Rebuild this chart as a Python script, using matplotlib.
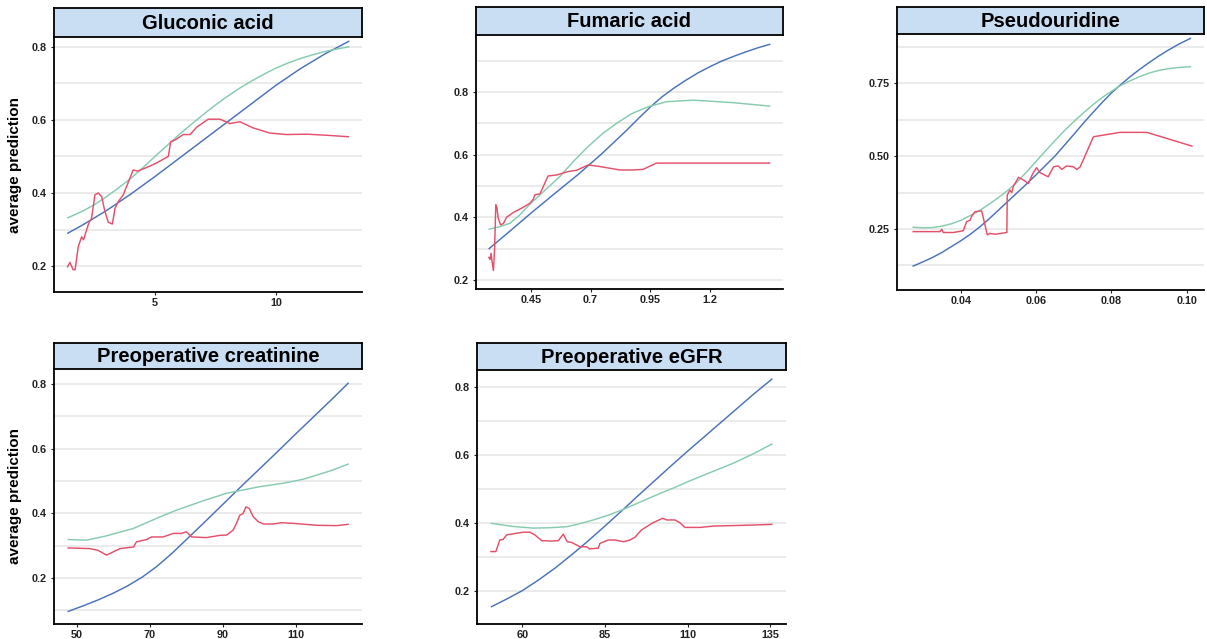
import numpy as np
import matplotlib
matplotlib.use("Agg")
import matplotlib.pyplot as plt

plt.rcParams['font.family'] = ['Liberation Sans', 'DejaVu Sans']

W, H = 1207, 639

BLUE = '#4A72B8'
GREEN = '#86CBAE'
RED = '#E4506A'
STRIP = '#C9DEF2'
GRID = '#E6E6E6'

# ---- Gluconic acid ----
glu_blue_x = [1.4, 2, 3, 4, 5, 6, 7, 8, 9, 10, 11, 12, 13]
glu_blue_y = [0.29, 0.312, 0.352, 0.397, 0.445, 0.495, 0.545, 0.595, 0.645, 0.695, 0.74, 0.78, 0.815]
glu_green_x = [1.4, 2, 2.5, 3, 3.5, 4, 4.5, 5, 5.5, 6, 6.5, 7, 7.5, 8, 8.5, 9, 9.5, 10,
               10.5, 11, 11.5, 12, 12.5, 13]
glu_green_y = [0.332, 0.35, 0.368, 0.39, 0.414, 0.44, 0.469, 0.5, 0.53, 0.56, 0.588, 0.615,
               0.641, 0.665, 0.687, 0.707, 0.725, 0.742, 0.756, 0.768, 0.778, 0.787, 0.794, 0.80]
glu_red_x = [1.39, 1.49, 1.62, 1.7, 1.83, 1.97, 2.05, 2.18, 2.28, 2.38, 2.52, 2.66, 2.8,
             2.93, 3.07, 3.24, 3.35, 3.48, 3.69, 3.9, 4.1, 4.3, 4.59, 5.0, 5.55, 5.65,
             5.83, 6.17, 6.45, 6.72, 7.2, 7.69, 8.1, 8.51, 9.06, 9.75, 10.44, 11.27, 12.1, 12.99]
glu_red_y = [0.198, 0.21, 0.19, 0.19, 0.253, 0.28, 0.272, 0.30, 0.32, 0.33, 0.395, 0.40, 0.39,
             0.35, 0.32, 0.315, 0.358, 0.376, 0.395, 0.43, 0.463, 0.46, 0.468, 0.48, 0.50, 0.54,
             0.545, 0.56, 0.56, 0.58, 0.602, 0.602, 0.59, 0.595, 0.578, 0.564, 0.56, 0.561, 0.558, 0.554]

# ---- Fumaric acid ----
fum_blue_x = [0.275, 0.35, 0.45, 0.55, 0.65, 0.75, 0.85, 0.9, 0.95, 1.0, 1.05, 1.1, 1.15,
              1.2, 1.25, 1.3, 1.35, 1.4, 1.45]
fum_blue_y = [0.300, 0.348, 0.413, 0.476, 0.538, 0.605, 0.677, 0.715, 0.752, 0.785, 0.813,
              0.838, 0.861, 0.881, 0.899, 0.914, 0.928, 0.941, 0.952]
fum_green_x = [0.275, 0.32, 0.362, 0.4, 0.45, 0.5, 0.571, 0.63, 0.69, 0.75, 0.809, 0.87,
               0.941, 1.018, 1.13, 1.297, 1.45]
fum_green_y = [0.362, 0.37, 0.381, 0.405, 0.445, 0.48, 0.53, 0.58, 0.626, 0.667, 0.70, 0.73,
               0.753, 0.769, 0.774, 0.766, 0.755]
fum_red_x = [0.274, 0.279, 0.283, 0.287, 0.293, 0.298, 0.303, 0.308, 0.313, 0.323, 0.335,
             0.348, 0.376, 0.418, 0.446, 0.46, 0.467, 0.488, 0.522, 0.558, 0.606, 0.641,
             0.69, 0.739, 0.823, 0.878, 0.92, 0.976, 1.087, 1.45]
fum_red_y = [0.272, 0.265, 0.285, 0.26, 0.23, 0.30, 0.44, 0.43, 0.397, 0.376, 0.38,
             0.40, 0.415, 0.432, 0.445, 0.458, 0.472, 0.475, 0.532, 0.535, 0.546, 0.55,
             0.567, 0.562, 0.551, 0.551, 0.553, 0.573, 0.573, 0.573]

# ---- Pseudouridine ----
psu_blue_x = [0.0273, 0.030, 0.0325, 0.035, 0.0375, 0.040, 0.0425, 0.045, 0.0475, 0.050,
              0.0525, 0.055, 0.0575, 0.060, 0.0625, 0.065, 0.0675, 0.070, 0.0725, 0.075,
              0.0775, 0.080, 0.0825, 0.085, 0.0875, 0.090, 0.0925, 0.095, 0.098, 0.101]
psu_blue_y = [0.123, 0.138, 0.153, 0.17, 0.19, 0.21, 0.232, 0.257, 0.285, 0.315,
              0.345, 0.375, 0.405, 0.436, 0.468, 0.50, 0.537, 0.574, 0.612, 0.648,
              0.683, 0.716, 0.745, 0.772, 0.797, 0.82, 0.842, 0.862, 0.884, 0.903]
psu_green_x = [0.0273, 0.030, 0.0327, 0.035, 0.0375, 0.040, 0.0425, 0.045, 0.0475, 0.050,
               0.0525, 0.055, 0.0575, 0.060, 0.0625, 0.065, 0.0675, 0.070, 0.0725, 0.075,
               0.0775, 0.080, 0.0825, 0.085, 0.0875, 0.090, 0.0925, 0.095, 0.0975, 0.101]
psu_green_y = [0.256, 0.254, 0.255, 0.26, 0.268, 0.28, 0.296, 0.314, 0.335, 0.358,
               0.383, 0.412, 0.446, 0.482, 0.518, 0.553, 0.587, 0.618, 0.647, 0.675,
               0.70, 0.722, 0.742, 0.758, 0.772, 0.784, 0.793, 0.799, 0.803, 0.806]
psu_red_x = [0.0273, 0.0344, 0.0349, 0.0353, 0.038, 0.0406, 0.0415, 0.0424, 0.0428, 0.0437,
             0.0455, 0.047, 0.0477, 0.0491, 0.0522, 0.0523, 0.053, 0.0535, 0.0539, 0.0553,
             0.0566, 0.0579, 0.0591, 0.0601, 0.061, 0.0632, 0.0646, 0.0659, 0.0668, 0.0681,
             0.0699, 0.0708, 0.0717, 0.0752, 0.0823, 0.0894, 0.1014]
psu_red_y = [0.241, 0.241, 0.249, 0.238, 0.238, 0.244, 0.275, 0.28, 0.292, 0.309,
             0.312, 0.23, 0.235, 0.232, 0.238, 0.366, 0.383, 0.375, 0.395, 0.427,
             0.418, 0.406, 0.44, 0.46, 0.443, 0.429, 0.463, 0.466, 0.454, 0.466,
             0.463, 0.454, 0.463, 0.566, 0.581, 0.581, 0.534]

# ---- Preoperative creatinine ----
cre_blue_x = [47.7, 52, 56, 60, 64, 68, 72, 76, 80, 85, 90, 95, 100, 105, 110, 115, 120, 124.4]
cre_blue_y = [0.097, 0.115, 0.133, 0.153, 0.176, 0.203, 0.236, 0.275, 0.318, 0.372, 0.427,
              0.482, 0.536, 0.59, 0.645, 0.699, 0.753, 0.802]
cre_green_x = [47.7, 52.7, 58, 65.5, 72, 77.4, 85, 91.1, 100, 106.6, 112, 115.8, 120, 124.4]
cre_green_y = [0.319, 0.317, 0.33, 0.353, 0.385, 0.41, 0.44, 0.462, 0.482, 0.493, 0.505,
               0.518, 0.533, 0.552]
cre_red_x = [47.7, 53.6, 55.8, 58.2, 61.9, 65.6, 66.4, 69.2, 70.5, 73.7, 76.5, 78.8, 80.1,
             81.5, 85.6, 89.3, 91.1, 92.9, 93.8, 94.7, 95.6, 96.4, 97.3, 98.4, 99.8, 101.2,
             103.9, 106.2, 109.4, 115.8, 121.3, 124.4]
cre_red_y = [0.293, 0.291, 0.286, 0.271, 0.291, 0.296, 0.312, 0.319, 0.327, 0.327, 0.338,
             0.338, 0.343, 0.327, 0.325, 0.332, 0.333, 0.348, 0.369, 0.394, 0.399, 0.42,
             0.415, 0.389, 0.374, 0.367, 0.367, 0.371, 0.369, 0.363, 0.362, 0.366]

# ---- Preoperative eGFR ----
egf_blue_x = [50.7, 55, 60, 65, 70, 75, 80, 85, 90, 95, 100, 105, 110, 115, 120, 125, 130, 135.5]
egf_blue_y = [0.153, 0.174, 0.2, 0.232, 0.267, 0.306, 0.347, 0.39, 0.434, 0.479, 0.523,
              0.567, 0.61, 0.652, 0.694, 0.736, 0.778, 0.822]
egf_green_x = [50.7, 57, 63.3, 68, 73.4, 77, 81.5, 86, 90.6, 96, 101.7, 106, 110.2, 117,
               123.9, 130, 135.5]
egf_green_y = [0.398, 0.389, 0.384, 0.385, 0.388, 0.396, 0.408, 0.422, 0.439, 0.462, 0.486,
               0.503, 0.521, 0.548, 0.575, 0.603, 0.631]
egf_red_x = [50.5, 52.0, 53.2, 54.2, 55.3, 58.3, 60.3, 62.3, 63.8, 65.9, 68.9, 70.9, 72.4,
             73.6, 74.9, 76.5, 77.5, 79.5, 80.3, 83.0, 83.5, 86.0, 88.1, 90.6, 92.6, 94.1,
             96.1, 97.6, 99.6, 102.5, 103.7, 106.2, 107.7, 109.2, 113.8, 117.8, 129.9, 135.5]
egf_red_y = [0.315, 0.315, 0.349, 0.351, 0.364, 0.369, 0.372, 0.372, 0.364, 0.347, 0.346,
             0.347, 0.366, 0.344, 0.342, 0.334, 0.329, 0.329, 0.323, 0.325, 0.339, 0.349,
             0.349, 0.344, 0.349, 0.357, 0.379, 0.388, 0.40, 0.413, 0.408, 0.408, 0.40,
             0.386, 0.386, 0.39, 0.393, 0.395]

panels = [
    dict(title='Gluconic acid', box=(54, 8, 37, 362, 292), xlim=(0.83, 13.55), ylim=(0.129, 0.827),
         xticks=[5, 10], xlabels=['5', '10'], yticks=[0.2, 0.4, 0.6, 0.8],
         ylabels=['0.2', '0.4', '0.6', '0.8'], minor=[0.3, 0.5, 0.7], ylabel=True,
         lines=[(glu_blue_x, glu_blue_y), (glu_green_x, glu_green_y), (glu_red_x, glu_red_y)]),
    dict(title='Fumaric acid', box=(476, 7, 35, 783, 289), xlim=(0.22, 1.506), ylim=(0.171, 0.982),
         xticks=[0.45, 0.7, 0.95, 1.2], xlabels=['0.45', '0.7', '0.95', '1.2'],
         yticks=[0.2, 0.4, 0.6, 0.8], ylabels=['0.2', '0.4', '0.6', '0.8'],
         minor=[0.3, 0.5, 0.7, 0.9], ylabel=False,
         lines=[(fum_blue_x, fum_blue_y), (fum_green_x, fum_green_y), (fum_red_x, fum_red_y)]),
    dict(title='Pseudouridine', box=(897, 7, 34, 1204, 290), xlim=(0.023, 0.1046), ylim=(0.041, 0.918),
         xticks=[0.04, 0.06, 0.08, 0.10], xlabels=['0.04', '0.06', '0.08', '0.10'],
         yticks=[0.25, 0.50, 0.75], ylabels=['0.25', '0.50', '0.75'],
         minor=[0.125, 0.375, 0.625, 0.875], ylabel=False,
         lines=[(psu_blue_x, psu_blue_y), (psu_green_x, psu_green_y), (psu_red_x, psu_red_y)]),
    dict(title='Preoperative creatinine', box=(54, 343, 369, 362, 624), xlim=(43.8, 128.2),
         ylim=(0.058, 0.846), xticks=[50, 70, 90, 110], xlabels=['50', '70', '90', '110'],
         yticks=[0.2, 0.4, 0.6, 0.8], ylabels=['0.2', '0.4', '0.6', '0.8'],
         minor=[0.1, 0.3, 0.5, 0.7], ylabel=True,
         lines=[(cre_blue_x, cre_blue_y), (cre_green_x, cre_green_y), (cre_red_x, cre_red_y)]),
    dict(title='Preoperative eGFR', box=(477, 343, 370, 786, 624), xlim=(46.3, 139.8),
         ylim=(0.102, 0.849), xticks=[60, 85, 110, 135], xlabels=['60', '85', '110', '135'],
         yticks=[0.2, 0.4, 0.6, 0.8], ylabels=['0.2', '0.4', '0.6', '0.8'],
         minor=[0.3, 0.5, 0.7], ylabel=False,
         lines=[(egf_blue_x, egf_blue_y), (egf_green_x, egf_green_y), (egf_red_x, egf_red_y)]),
]


def rect(l, t, r, b):
    return [l / W, 1 - b / H, (r - l) / W, (b - t) / H]


fig = plt.figure(figsize=(W / 100, H / 100), dpi=100)

for p in panels:
    l, st, t, r, b = p['box']
    ax = fig.add_axes(rect(l, t, r, b))
    for y in p['yticks'] + p['minor']:
        ax.axhline(y, color=GRID, lw=1.1, zorder=0)
    for (x, y), c in zip(p['lines'], [BLUE, GREEN, RED]):
        ax.plot(x, y, color=c, lw=1.05, zorder=2)
    ax.set_xlim(*p['xlim'])
    ax.set_ylim(*p['ylim'])
    ax.set_xticks(p['xticks'])
    ax.set_xticklabels(p['xlabels'])
    ax.set_yticks(p['yticks'])
    ax.set_yticklabels(p['ylabels'])
    for s in ['top', 'right']:
        ax.spines[s].set_visible(False)
    for s in ['left', 'bottom']:
        ax.spines[s].set_linewidth(1.3)
    ax.tick_params(axis='both', labelsize=7.8, length=2.5, width=0.8, colors='#222222')
    ax.tick_params(axis='x', pad=1.5)
    ax.tick_params(axis='y', pad=2.5)
    for lab in ax.get_xticklabels() + ax.get_yticklabels():
        lab.set_fontweight('bold')
    if p['ylabel']:
        fig.text(15 / W, 1 - (t + b) / 2 / H, 'average prediction', rotation=90,
                 ha='center', va='center', fontsize=11, fontweight='bold')

    sax = fig.add_axes(rect(l, st, r, t))
    sax.set_facecolor(STRIP)
    sax.set_xticks([])
    sax.set_yticks([])
    for s in sax.spines.values():
        s.set_linewidth(1.3)
    sax.text(0.5, 0.48, p['title'], ha='center', va='center', fontsize=14.5,
             fontweight='bold', transform=sax.transAxes)

fig.savefig('out.png', dpi=100)
